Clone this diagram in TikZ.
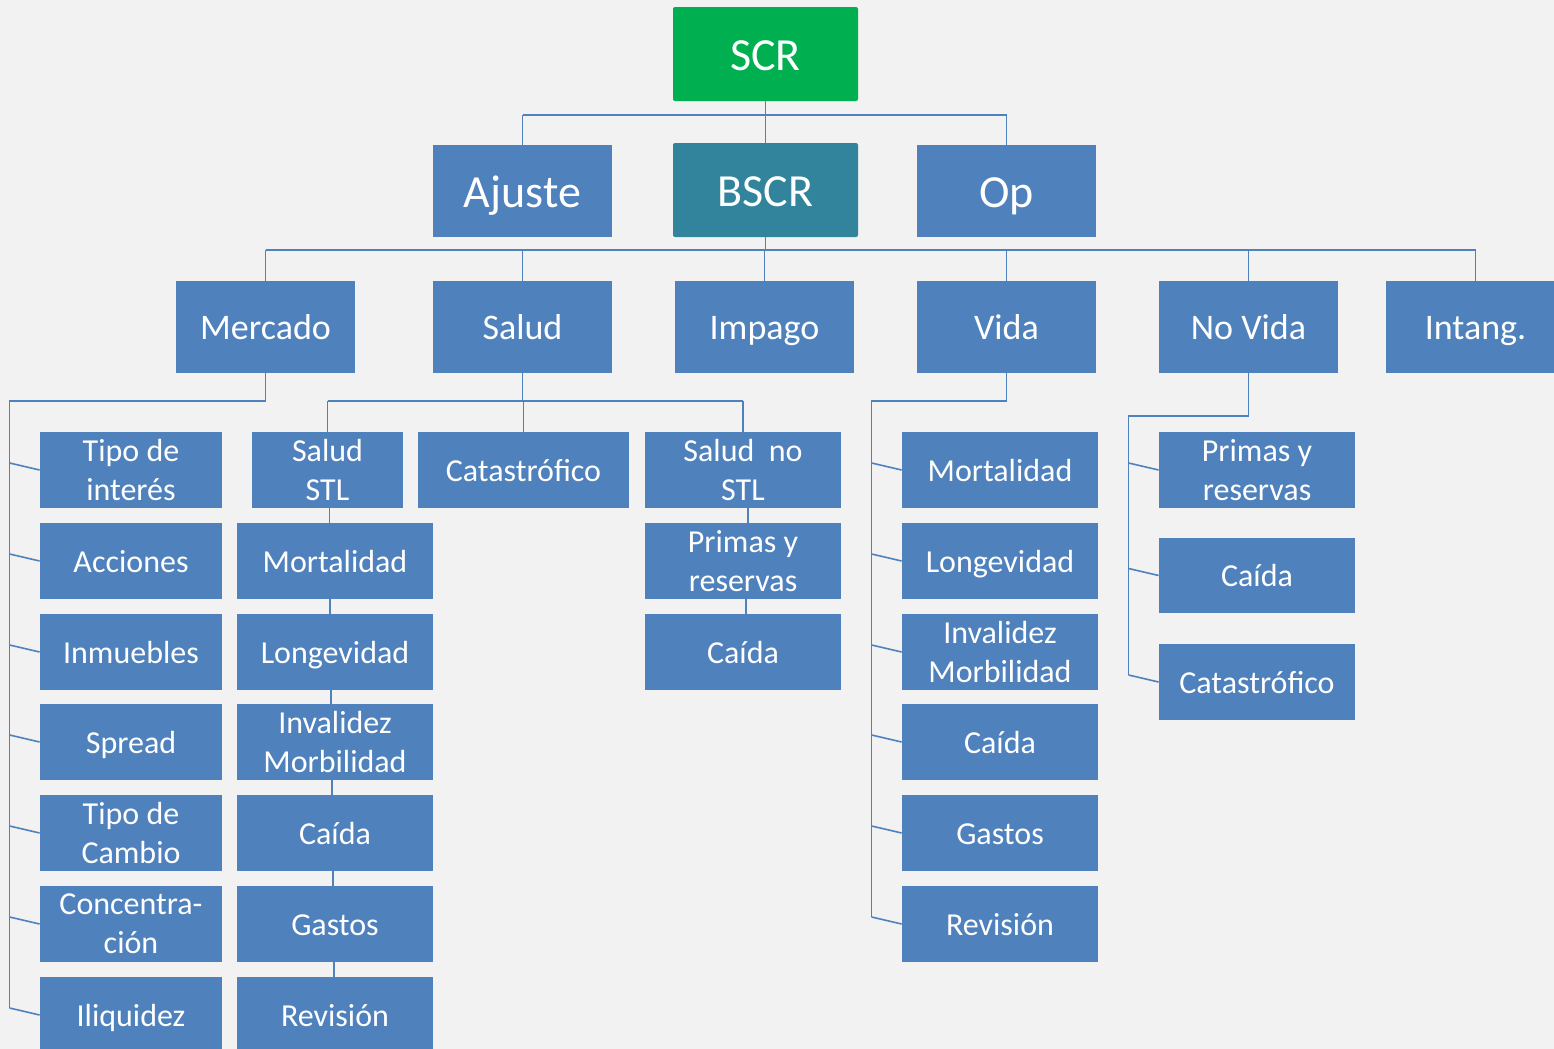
\documentclass[tikz,border=0pt]{standalone}
\usepackage{fontspec}
\setmainfont{Carlito}
\definecolor{bg}{HTML}{F2F2F2}
\definecolor{boxblue}{HTML}{4F81BD}
\definecolor{scrgreen}{HTML}{00B050}
\definecolor{bscrteal}{HTML}{31849B}
\begin{document}
\begin{tikzpicture}[x=0.5pt,y=-0.5pt,
  bx/.style={fill=boxblue, text=white, inner sep=0pt, align=center, font=\fontsize{16}{19.5}\selectfont},
  sz/.style 2 args={minimum width=#1*0.5pt, minimum height=#2*0.5pt},
  conn/.style={draw=boxblue, line width=0.8pt},
  one/.style={text height=11.2pt, text depth=0pt},
  lvlone/.style={font=\fontsize{23}{28}\selectfont, text height=16.1pt, text depth=0pt},
  lvltwo/.style={font=\fontsize{18}{22}\selectfont, text height=12.6pt, text depth=0pt}]
\useasboundingbox (0,0) rectangle (1554,1049);
\fill[bg] (0,0) rectangle (1554,1049);
\clip (0,0) rectangle (1554,1049);

% level 0 / 1
\node[bx,lvlone,sz={185}{94},fill=scrgreen,rounded corners=1pt] (scr) at (765.5,54) {SCR};
\node[bx,lvlone,sz={179}{92}] (ajuste) at (522.5,191) {Ajuste};
\node[bx,lvlone,sz={185}{94},fill=bscrteal,rounded corners=1pt] (bscr) at (765.5,190) {BSCR};
\node[bx,lvlone,sz={179}{92}] (op) at (1006.5,191) {Op};

% level 2
\node[bx,lvltwo,sz={179}{92}] (mercado) at (265.5,327) {Mercado};
\node[bx,lvltwo,sz={179}{92}] (salud) at (522.5,327) {Salud};
\node[bx,lvltwo,sz={179}{92}] (impago) at (764.5,327) {Impago};
\node[bx,lvltwo,sz={179}{92}] (vida) at (1006.5,327) {Vida};
\node[bx,lvltwo,sz={179}{92}] (novida) at (1248.5,327) {No Vida};
\node[bx,lvltwo,sz={179}{92}] (intang) at (1475.5,327) {Intang.};

% Mercado leaves
\node[bx,sz={182}{76}] (m1) at (131,470) {Tipo de\\interés};
\node[bx,one,sz={182}{76}] (m2) at (131,561) {Acciones};
\node[bx,one,sz={182}{76}] (m3) at (131,652) {Inmuebles};
\node[bx,one,sz={182}{76}] (m4) at (131,742) {Spread};
\node[bx,sz={182}{76}] (m5) at (131,833) {Tipo de\\Cambio};
\node[bx,sz={182}{76}] (m6) at (131,924) {Concentra-\\ción};
\node[bx,one,sz={182}{76}] (m7) at (131,1015) {Iliquidez};

% Salud children
\node[bx,sz={151}{76}] (stl) at (327.5,470) {Salud\\STL};
\node[bx,one,sz={211}{76}] (cat) at (523.5,470) {Catastrófico};
\node[bx,sz={196}{76}] (nostl) at (743,470) {Salud~ no\\STL};
\node[bx,one,sz={196}{76}] (s1) at (335,561) {Mortalidad};
\node[bx,one,sz={196}{76}] (s2) at (335,652) {Longevidad};
\node[bx,sz={196}{76}] (s3) at (335,742) {Invalidez\\Morbilidad};
\node[bx,one,sz={196}{76}] (s4) at (335,833) {Caída};
\node[bx,one,sz={196}{76}] (s5) at (335,924) {Gastos};
\node[bx,one,sz={196}{76}] (s6) at (335,1015) {Revisión};
\node[bx,sz={196}{76}] (p1) at (743,561) {Primas y\\reservas};
\node[bx,one,sz={196}{76}] (p2) at (743,652) {Caída};

% Vida leaves
\node[bx,one,sz={196}{76}] (v1) at (1000,470) {Mortalidad};
\node[bx,one,sz={196}{76}] (v2) at (1000,561) {Longevidad};
\node[bx,sz={196}{76}] (v3) at (1000,652) {Invalidez\\Morbilidad};
\node[bx,one,sz={196}{76}] (v4) at (1000,742) {Caída};
\node[bx,one,sz={196}{76}] (v5) at (1000,833) {Gastos};
\node[bx,one,sz={196}{76}] (v6) at (1000,924) {Revisión};

% No Vida leaves
\node[bx,sz={196}{76}] (n1) at (1257,470) {Primas y\\reservas};
\node[bx,one,sz={196}{75}] (n2) at (1257,575.5) {Caída};
\node[bx,one,sz={196}{76}] (n3) at (1257,682) {Catastrófico};

% connectors level 0 -> 1
\draw[conn] (scr.south) -- (scr.south |- 0,115);
\draw[conn] (ajuste.north |- 0,115) -- (op.north |- 0,115);
\draw[conn] (ajuste.north |- 0,115) -- (ajuste.north);
\draw[conn] (scr.south |- 0,115) -- (bscr.north);
\draw[conn] (op.north |- 0,115) -- (op.north);

% connectors level 1 -> 2
\draw[conn] (bscr.south) -- (bscr.south |- 0,250);
\draw[conn] (mercado.north |- 0,250) -- (intang.north |- 0,250);
\foreach \n in {mercado,salud,impago,vida,novida,intang}
  \draw[conn] (\n.north |- 0,250) -- (\n.north);

% Mercado
\draw[conn] (mercado.south) -- (mercado.south |- 0,401) -| ([xshift=-15pt,yshift=3.5pt]m7.west);
\foreach \n in {m1,m2,m3,m4,m5,m6,m7}
  \draw[conn] ([xshift=-15pt,yshift=3.5pt]\n.west) -- (\n.west);

% Salud
\draw[conn] (salud.south) -- (salud.south |- 0,401);
\draw[conn] (stl.north |- 0,401) -- (nostl.north |- 0,401);
\foreach \n in {stl,cat,nostl}
  \draw[conn] (\n.north |- 0,401) -- (\n.north);
\draw[conn] ([xshift=1pt]stl.south) -- ([xshift=1pt]stl.south |- s1.north);
\draw[conn] ([xshift=-2.5pt]s1.south) -- ([xshift=-2.5pt]s1.south |- s2.north);
\draw[conn] ([xshift=-2pt]s2.south) -- ([xshift=-2pt]s2.south |- s3.north);
\draw[conn] ([xshift=-1.5pt]s3.south) -- ([xshift=-1.5pt]s3.south |- s4.north);
\draw[conn] ([xshift=-1pt]s4.south) -- ([xshift=-1pt]s4.south |- s5.north);
\draw[conn] ([xshift=-0.5pt]s5.south) -- ([xshift=-0.5pt]s5.south |- s6.north);
\draw[conn] ([xshift=2.5pt]nostl.south) -- ([xshift=2.5pt]nostl.south |- p1.north);
\draw[conn] ([xshift=1.5pt]p1.south) -- ([xshift=1.5pt]p1.south |- p2.north);

% Vida
\draw[conn] (vida.south) -- (vida.south |- 0,401) -| ([xshift=-15pt,yshift=3.5pt]v6.west);
\foreach \n in {v1,v2,v3,v4,v5,v6}
  \draw[conn] ([xshift=-15pt,yshift=3.5pt]\n.west) -- (\n.west);

% No Vida
\draw[conn] (novida.south) -- (novida.south |- 0,416) -| ([xshift=-15pt,yshift=3.5pt]n3.west);
\foreach \n in {n1,n2,n3}
  \draw[conn] ([xshift=-15pt,yshift=3.5pt]\n.west) -- (\n.west);
\end{tikzpicture}
\end{document}
